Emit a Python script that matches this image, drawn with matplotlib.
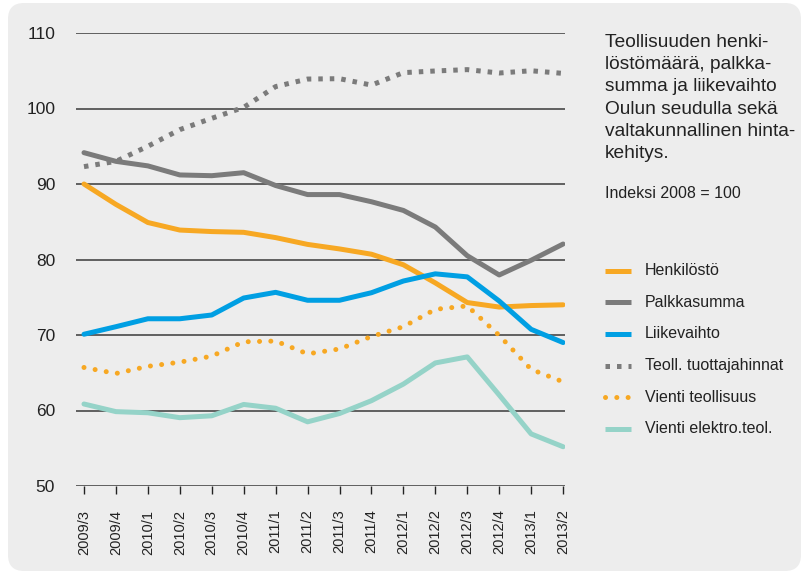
import matplotlib
matplotlib.use("Agg")
import matplotlib.pyplot as plt
from matplotlib.lines import Line2D
from matplotlib.patches import FancyBboxPatch
from matplotlib.transforms import IdentityTransform

plt.rcParams["font.family"] = ["Liberation Sans Narrow", "Liberation Sans", "DejaVu Sans"]

quarters = ["2009/3", "2009/4", "2010/1", "2010/2", "2010/3", "2010/4",
            "2011/1", "2011/2", "2011/3", "2011/4", "2012/1", "2012/2",
            "2012/3", "2012/4", "2013/1", "2013/2"]

henkilosto = [90.0, 87.3, 84.9, 83.9, 83.7, 83.6, 82.9, 82.0, 81.4, 80.7,
              79.3, 76.9, 74.3, 73.7, 73.9, 74.0]
palkkasumma = [94.15, 93.0, 92.4, 91.2, 91.1, 91.5, 89.8, 88.6, 88.6, 87.65,
               86.5, 84.3, 80.5, 77.95, 79.9, 82.05]
liikevaihto = [70.1, 71.1, 72.15, 72.15, 72.65, 74.9, 75.65, 74.6, 74.6, 75.6,
               77.15, 78.1, 77.7, 74.5, 70.75, 69.0]
tuottajahinnat = [92.3, 93.0, 95.0, 97.2, 98.7, 100.15, 102.9, 103.9, 103.95,
                  103.1, 104.75, 104.97, 105.15, 104.7, 105.0, 104.65]
vienti_teol = [65.7, 64.9, 65.85, 66.4, 67.2, 69.1, 69.2, 67.5, 68.15, 69.8,
               71.1, 73.4, 73.85, 69.95, 65.45, 63.8]
vienti_elektro = [60.86, 59.85, 59.7, 59.05, 59.3, 60.8, 60.3, 58.5, 59.6, 61.3,
                  63.5, 66.3, 67.1, 62.05, 56.9, 55.2]

labels = ["Henkilöstö", "Palkkasumma", "Liikevaihto", "Teoll. tuottajahinnat",
          "Vienti teollisuus", "Vienti elektro.teol."]

ORANGE = "#f7a823"
GRAY = "#7b7b7b"
BLUE = "#009fe3"
TEAL = "#95d3c8"
BG = "#ededed"
TXT = "#222222"

styles = [
    dict(color=ORANGE, ls="-"),
    dict(color=GRAY, ls="-"),
    dict(color=BLUE, ls="-"),
    dict(color=GRAY, ls=(0, (0.9, 1.4)), dash_capstyle="butt"),
    dict(color=ORANGE, ls=(0, (0.01, 2.25)), dash_capstyle="round"),
    dict(color=TEAL, ls="-"),
]
series = [henkilosto, palkkasumma, liikevaihto, tuottajahinnat, vienti_teol, vienti_elektro]

W, H = 806, 572
fig = plt.figure(figsize=(W / 100, H / 100), dpi=100, facecolor="white")

# rounded grey panel behind everything
panel = FancyBboxPatch((8, H - 571), 793, 568, boxstyle="round,pad=0,rounding_size=16",
                       transform=IdentityTransform(), facecolor=BG, edgecolor="none",
                       zorder=-10)
fig.patches.append(panel)

ax = fig.add_axes([76 / W, 1 - 486 / H, (565 - 76) / W, (486 - 33) / H])
ax.patch.set_alpha(0)

x = list(range(len(quarters)))
lw = 3.6
for vals, st in zip(series, styles):
    ax.plot(x, vals, lw=lw, solid_capstyle="round", solid_joinstyle="round", **st)

ax.set_xlim(-0.25, 15.06)
ax.set_ylim(50, 110)
ax.set_yticks(range(50, 111, 10))
ax.yaxis.grid(True, color="#3a3a3a", lw=1.1)
ax.set_axisbelow(True)
for s in ax.spines.values():
    s.set_visible(False)
ax.tick_params(axis="y", length=0, pad=15, labelsize=12.5, labelcolor=TXT)
ax.set_xticks(x)
ax.set_xticklabels(quarters, rotation=90)
ax.tick_params(axis="x", length=6, width=1, color=TXT, pad=11,
               labelsize=10.5, labelcolor=TXT)

# title block on the right
fig.text(605 / W, 1 - 34 / H,
         "Teollisuuden henki-\nlöstömäärä, palkka-\nsumma ja liikevaihto\n"
         "Oulun seudulla sekä\nvaltakunnallinen hinta-\nkehitys.",
         ha="left", va="top", fontsize=13.8, linespacing=1.4, color=TXT)
fig.text(605 / W, 1 - 193 / H, "Indeksi 2008 = 100", ha="left", va="center",
         fontsize=11.5, color=TXT)

# legend drawn by hand
y0, step = 270.7, 31.6
for i, (lab, st) in enumerate(zip(labels, styles)):
    yy = 1 - (y0 + i * step) / H
    fig.add_artist(Line2D([605 / W, 631 / W], [yy, yy], transform=fig.transFigure,
                          lw=lw, solid_capstyle="butt", **st))
    fig.text(645 / W, yy, lab, ha="left", va="center", fontsize=11.5, color=TXT)

fig.savefig("out.png", dpi=100, facecolor="white")
